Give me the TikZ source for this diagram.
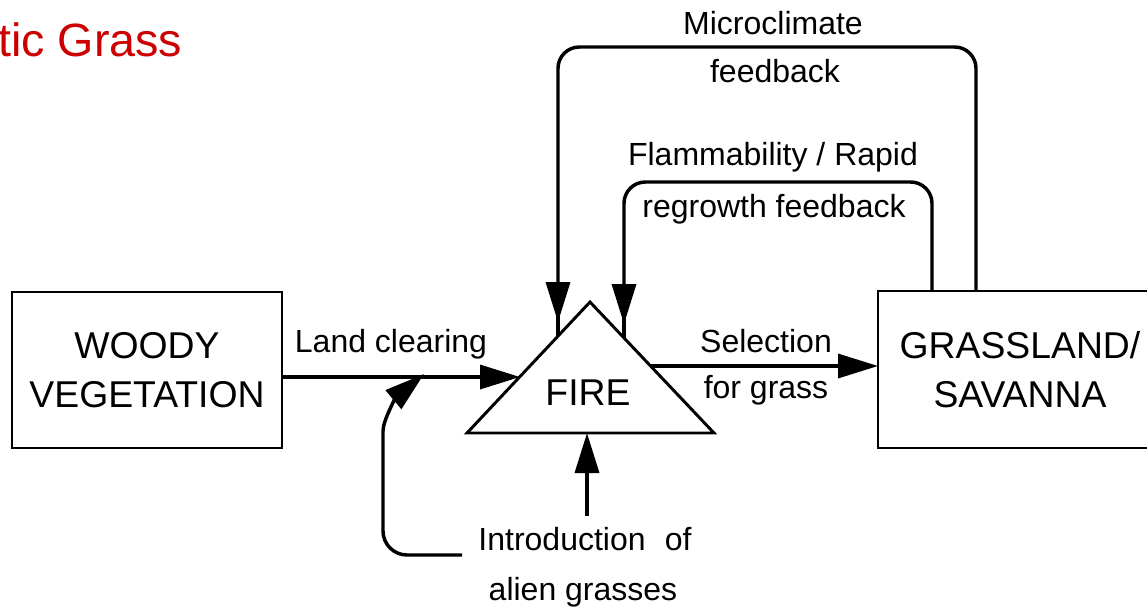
\documentclass[tikz,border=0pt]{standalone}
\usepackage{fontspec}
\setmainfont{Liberation Sans}
\usetikzlibrary{arrows.meta}
\definecolor{titlered}{RGB}{204,0,0}
\begin{document}
\begin{tikzpicture}[x=0.75pt,y=-0.75pt,
  box/.style={draw, line width=2.2pt, inner sep=0pt, align=center,
              font=\fontsize{28}{36.5}\selectfont},
  lbl/.style={font=\fontsize{24}{28}\selectfont, inner sep=0pt, anchor=base},
  conn/.style={line width=2.6pt},
  arr/.style={conn, -{Triangle[length=30pt,width=18pt]}},
  loop/.style={arr, rounded corners=16pt}]
\clip (0,0) rectangle (1147,608);

% title
\node[font=\fontsize{35}{40}\selectfont, text=titlered, inner sep=0pt,
      anchor=base west] (title) at (-2,56) {tic Grass};

% boxes
\node[box, minimum width=202.5pt, minimum height=117pt] (woody) at (147,370)
  {WOODY\\VEGETATION};
\node[box, minimum width=213pt, minimum height=117.75pt] (grass) at (1020,369.5)
  {GRASSLAND/\\SAVANNA};

% fire triangle
\coordinate (apex) at (590,302);
\coordinate (bl) at (467,433);
\coordinate (br) at (714,433);
\draw[line width=2.2pt, line join=miter] (apex) -- (bl) -- (br) -- cycle;
\node[font=\fontsize{28}{32}\selectfont, inner sep=0pt] (fire) at (588,393) {FIRE};

% points where connectors meet the triangle and boxes
\coordinate (fireW) at (520,377);
\coordinate (fireE) at (651,366);
\coordinate (fireTL) at (558,336);
\coordinate (fireTR) at (624,338);
\coordinate (fireS) at (587,433);
\coordinate (woodyE) at (282,377);
\coordinate (grassW) at (878,366);
\coordinate (grassT1) at (976,291);
\coordinate (grassT2) at (932,291);

% labels
\node[lbl] (mc1) at (773,34) {Microclimate};
\node[lbl] (mc2) at (775,82) {feedback};
\node[lbl] (fl1) at (773,165) {Flammability / Rapid};
\node[lbl] (fl2) at (774,217) {regrowth feedback};
\node[lbl] (land) at (391,352) {Land clearing};
\node[lbl] (sel1) at (766,352) {Selection};
\node[lbl] (sel2) at (766,398) {for grass};
\node[lbl] (intro1) at (585,550) {Introduction\hspace{0.6em}of};
\node[lbl] (intro2) at (583,600) {alien grasses};

% main flow
\draw[arr] (woodyE) -- (fireW);
\draw[arr] (fireE) -- (grassW);

% feedback loops: the shaft runs on to the triangle, the head sits just above it
\draw[loop] (grassT1) -- (976,47) -- (558,47) -- (558,322);
\draw[conn] (558,310) -- (fireTL);
\draw[loop] (grassT2) -- (932,182) -- (624,182) -- (624,324);
\draw[conn] (624,312) -- (fireTR);

% alien grasses
\coordinate (introTop) at (587,516);
\draw[arr] (introTop) -- (fireS);
\coordinate (loopStart) at (462,555);
\coordinate (loopEnd) at (424,374);
\draw[arr, rounded corners=18pt] (loopStart) -- (383,555) -- (383,455)
  to[out=90,in=-140] (loopEnd);
\end{tikzpicture}
\end{document}
